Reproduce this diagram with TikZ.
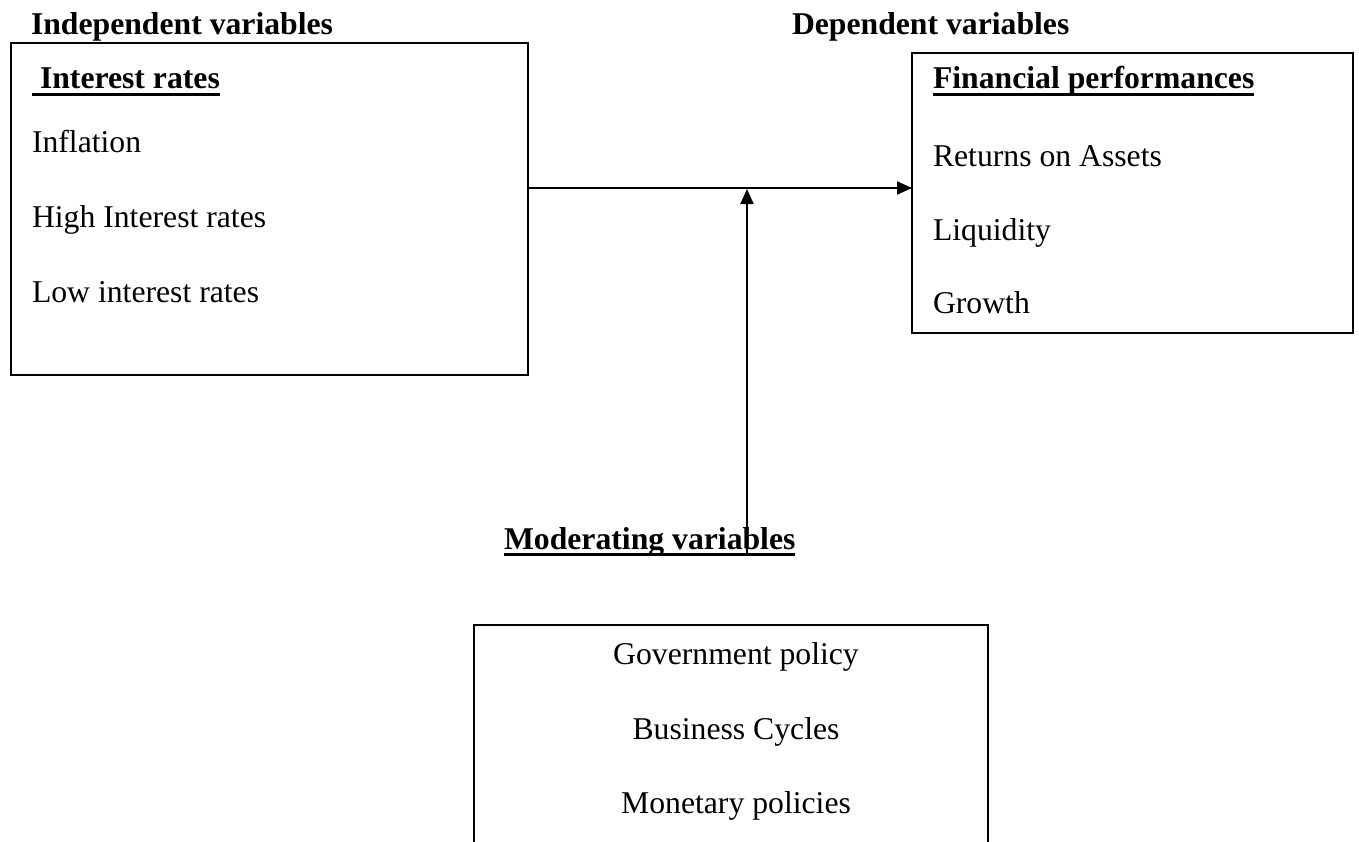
\documentclass[tikz,border=0pt]{standalone}
\usepackage{fontspec}
\setmainfont{Liberation Serif}
\usetikzlibrary{arrows.meta,calc}
\begin{document}
\begin{tikzpicture}[x=1pt,y=1pt,
  every node/.style={font=\fontsize{31.7}{38}\selectfont, inner sep=0pt, outer sep=0pt},
  txt/.style={anchor=base west},
  ctxt/.style={anchor=base},
  head/.style={anchor=base west, font=\fontsize{31.7}{38}\selectfont\bfseries},
  varbox/.style={draw, line width=2pt, rectangle},
  uline/.style={line width=3pt},
  arr/.style={line width=2pt, -{Triangle[length=15pt,width=13pt]}}
]
\useasboundingbox (0,0) rectangle (1359,-841);
\fill[white] (0,0) rectangle (1359,-841);

% boxes
\node[varbox, minimum width=517pt, minimum height=332pt] (indep) at (269.5,-209) {};
\node[varbox, minimum width=441pt, minimum height=280pt] (dep) at (1132.5,-193) {};
\node[minimum width=514pt, minimum height=220pt] (modbox) at (731,-735) {};
\draw[line width=2pt] (modbox.south west) -- (modbox.north west) -- (modbox.north east) -- (modbox.south east);

% headings
\node[head] (indeph) at (31,-34) {Independent variables};
\node[head] (deph) at (792,-34) {Dependent variables};

% left box contents
\node[head] (ir) at (40,-88) {Interest rates};
\draw[uline] ([xshift=-8pt,yshift=-6pt]ir.base west) -- ([yshift=-6pt]ir.base east);
\node[txt] (infl) at (32,-152) {Inflation};
\node[txt] (hir) at (32,-227) {High Interest rates};
\node[txt] (lir) at (32,-302) {Low interest rates};

% right box contents
\node[head] (fp) at (933,-88) {Financial performances};
\draw[uline] ([yshift=-6pt]fp.base west) -- ([yshift=-6pt]fp.base east);
\node[txt] (roa) at (933,-166) {Returns on Assets};
\node[txt] (liq) at (933,-240) {Liquidity};
\node[txt] (gro) at (933,-313) {Growth};

% moderating
\node[head] (mv) at (504,-549) {Moderating variables};
\draw[uline] ([yshift=-5pt]mv.base west) -- ([yshift=-5pt]mv.base east);
\node[ctxt] (gp) at (736,-664) {Government policy};
\node[ctxt] (bc) at (736,-739) {Business Cycles};
\node[ctxt] (mp) at (736,-813) {Monetary policies};

% connectors
\coordinate (j) at (747,-188);
\coordinate (vstart) at (747,-553);
\draw[arr] (indep.east |- j) -- (dep.west |- j);
\draw[arr] (vstart) -- ([yshift=-1pt]j);
\end{tikzpicture}
\end{document}
